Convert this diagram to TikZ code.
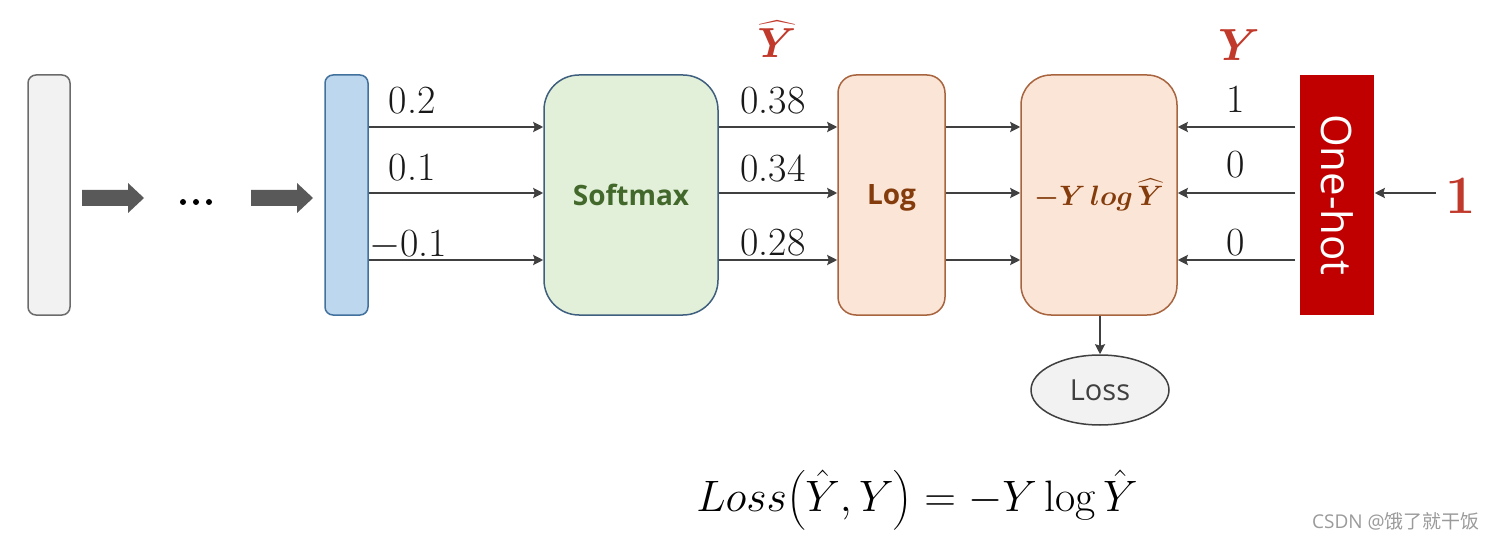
\RequirePackage{fix-cm}
\documentclass[tikz,border=0pt]{standalone}
\usepackage{amsmath}
\usepackage{bm}
\usepackage{fontspec}
\setsansfont{Open Sans}
\newfontfamily\cjkfont{Noto Sans CJK SC}
\usetikzlibrary{arrows.meta,shapes.geometric}
\definecolor{arrgray}{HTML}{404040}
\definecolor{blockgray}{HTML}{595959}
\definecolor{grayfill}{HTML}{F2F2F2}
\definecolor{grayline}{HTML}{6B6B6B}
\definecolor{bluefill}{HTML}{BDD7EE}
\definecolor{blueline}{HTML}{41719C}
\definecolor{greenfill}{HTML}{E2F0D9}
\definecolor{greentext}{HTML}{43682B}
\definecolor{slateline}{HTML}{3F5F7F}
\definecolor{peachfill}{HTML}{FBE5D6}
\definecolor{brownline}{HTML}{A8643E}
\definecolor{browntext}{HTML}{843C0C}
\definecolor{onehot}{HTML}{C00000}
\definecolor{labelred}{HTML}{C0392B}
\definecolor{wmgray}{HTML}{9A9A9A}
\tikzset{
  arr/.style={draw=arrgray, line width=2.5pt, -{Stealth[length=10pt,width=10pt,inset=1.5pt]}},
  colbox/.style={minimum height=240pt, inner sep=0pt, line width=1.5pt},
  numlabel/.style={font=\fontsize{40}{44}\selectfont, text=black!90, inner sep=0pt}
}
\begin{document}
\begin{tikzpicture}[x=1pt,y=-1pt]
\useasboundingbox (0,0) rectangle (1497,540);
% boxes
\node[colbox, minimum width=42pt, rounded corners=8pt, fill=grayfill, draw=grayline] (inbox) at (49,195) {};
\node[colbox, minimum width=43pt, rounded corners=8pt, fill=bluefill, draw=blueline] (blue) at (346.5,195) {};
\node[colbox, minimum width=174pt, rounded corners=35pt, fill=greenfill, draw=slateline,
      font=\sffamily\bfseries\fontsize{28}{30}\selectfont, text=greentext] (soft) at (631,195) {Softmax};
\node[colbox, minimum width=107pt, rounded corners=18pt, fill=peachfill, draw=brownline,
      text height=20pt, text depth=0pt,
      font=\sffamily\bfseries\fontsize{28}{30}\selectfont, text=browntext] (log) at (891.5,195) {Log};
\node[colbox, minimum width=156pt, rounded corners=30pt, fill=peachfill, draw=brownline,
      font=\fontsize{28}{30}\selectfont, text=browntext] (lossbox) at (1099,195) {$\bm{-Y\,log\,\widehat{Y}}$};
\node[colbox, minimum width=74pt, fill=onehot, draw=none, text=white,
      font=\sffamily\fontsize{42}{44}\selectfont] (hot) at (1337,195) {\rotatebox{-90}{One-hot}};
\node[ellipse, minimum width=138pt, minimum height=70pt, fill=grayfill, draw=arrgray, line width=1.5pt,
      font=\sffamily\fontsize{29}{31}\selectfont, text=black!75] (loss) at (1100,390) {Loss};

% block arrows and dots
\fill[blockgray] (82,190) -- (128,190) -- (128,183) -- (144,198) -- (128,213) -- (128,206) -- (82,206) -- cycle;
\fill[blockgray] (251,190) -- (297,190) -- (297,183) -- (313,198) -- (297,213) -- (297,206) -- (251,206) -- cycle;
\fill[black] (183,202) circle (3pt) (196,202) circle (3pt) (209,202) circle (3pt);

% connectors
\foreach \yy in {127,193,260} {
  \draw[arr] (blue.east |- 0,\yy) -- (soft.west |- 0,\yy);
  \draw[arr] (soft.east |- 0,\yy) -- (log.west |- 0,\yy);
  \draw[arr] (log.east |- 0,\yy) -- (lossbox.west |- 0,\yy);
  \draw[arr] (hot.west |- 0,\yy) ++(-4,0) -- (lossbox.east |- 0,\yy);
}
\coordinate (one) at (1436,193);
\draw[arr] (one) -- (hot.east |- one);
\draw[arr] (lossbox.south -| loss.north) -- (loss.north);

% number labels
\node[numlabel] (l1) at (412,101) {0.2};
\node[numlabel] (l2) at (412,168) {0.1};
\node[numlabel] (l3) at (408,245) {$-$0.1};
\node[numlabel] (m1) at (773,101) {0.38};
\node[numlabel] (m2) at (773,168) {0.34};
\node[numlabel] (m3) at (773,243) {0.28};
\node[numlabel] (r1) at (1236,99) {1};
\node[numlabel] (r2) at (1236,165) {0};
\node[numlabel] (r3) at (1236,243) {0};

% red labels
\node[text=labelred, font=\fontsize{42}{44}\selectfont, inner sep=0pt] (yhat) at (777,39) {$\bm{\widehat{Y}}$};
\node[text=labelred, font=\fontsize{45}{47}\selectfont, inner sep=0pt] (ylab) at (1239,45) {$\bm{Y}$};
\node[text=labelred, font=\bfseries\fontsize{54}{56}\selectfont, inner sep=0pt] (onein) at (1461,196) {1};

% formula
\node[font=\fontsize{44}{48}\selectfont, inner sep=0pt] (formula) at (917,500)
  {$Loss\bigl(\hat{Y},Y\bigr)=-Y\log\hat{Y}$};
% watermark
\node[text=wmgray, font=\sffamily\fontsize{19}{21}\selectfont, inner sep=0pt] (wm) at (1396,521)
  {CSDN @{\cjkfont 饿了就干饭}};
\end{tikzpicture}
\end{document}
